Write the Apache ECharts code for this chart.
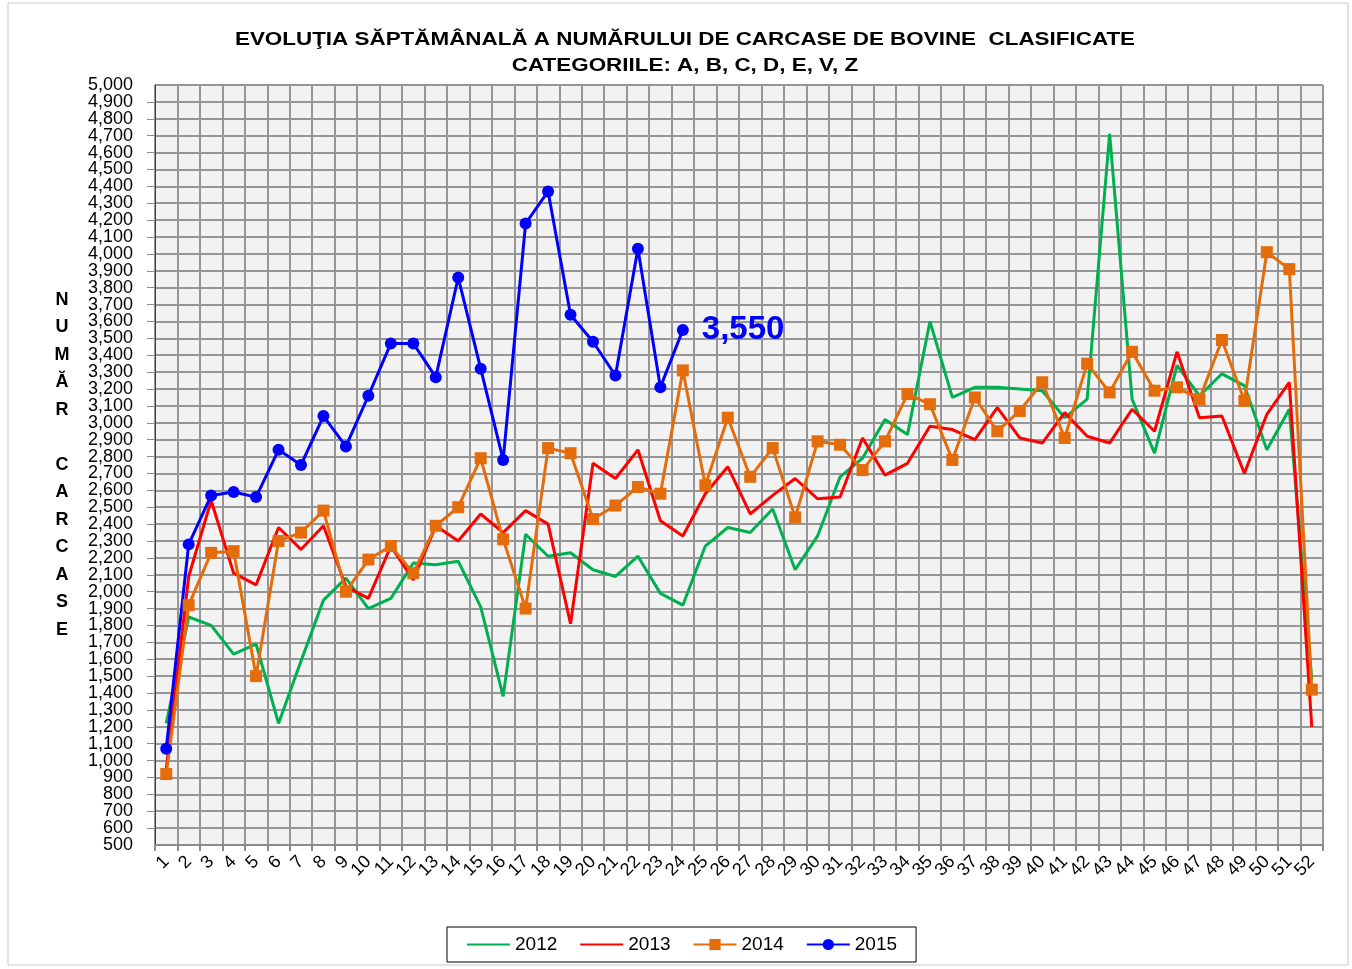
<!DOCTYPE html>
<html>
<head>
<meta charset="utf-8">
<script src="https://cdn.jsdelivr.net/npm/echarts@6/dist/echarts.min.js"></script>
<style>
  html, body { margin: 0; padding: 0; background: #fff; }
  #chart { width: 1352px; height: 969px; }
</style>
</head>
<body>
<div id="chart"></div>
<script>
// saptamanile 1..52
var weeks = ['1','2','3','4','5','6','7','8','9','10','11','12','13','14','15','16','17','18','19','20',
  '21','22','23','24','25','26','27','28','29','30','31','32','33','34','35','36','37','38','39','40',
  '41','42','43','44','45','46','47','48','49','50','51','52'];

var y2012 = [1220,1850,1800,1630,1690,1220,1590,1950,2080,1900,1960,2170,2160,2180,1910,1380,2340,2210,2230,2130,
  2090,2210,1990,1920,2270,2380,2350,2490,2130,2330,2680,2790,3020,2930,3600,3150,3210,3210,3200,3190,
  3030,3140,4710,3140,2820,3340,3160,3290,3220,2840,3080,1480];

var y2013 = [950,2090,2540,2110,2040,2380,2250,2390,2030,1960,2270,2070,2390,2300,2460,2350,2480,2400,1810,2760,
  2670,2840,2420,2330,2580,2740,2460,2570,2670,2550,2560,2910,2690,2760,2980,2960,2900,3090,2910,2880,
  3060,2920,2880,3080,2950,3420,3030,3040,2700,3050,3240,1200];

var y2014 = [920,1920,2230,2240,1500,2300,2350,2480,2000,2190,2270,2110,2390,2500,2790,2310,1900,2850,2820,2430,
  2510,2620,2580,3310,2630,3030,2680,2850,2440,2890,2870,2720,2890,3170,3110,2780,3150,2950,3070,3240,
  2910,3350,3180,3420,3190,3210,3140,3490,3130,4010,3910,1420];

var y2015 = [1070,2280,2570,2590,2560,2840,2750,3040,2860,3160,3470,3470,3270,3860,3320,2780,4180,4370,3640,3480,
  3280,4030,3210,3550];

var yMin = 500, yMax = 5000, yStep = 100;

var FONT = "'Liberation Sans', Arial, sans-serif";

function fmt(v) {
  return String(v).replace(/\B(?=(\d{3})+(?!\d))/g, ',');
}

var noMarker = { color: 'rgba(0,0,0,0)', borderColor: 'rgba(0,0,0,0)', borderWidth: 0, opacity: 0 };

var myChart = echarts.init(document.getElementById('chart'));
myChart.setOption({
  backgroundColor: '#ffffff',
  animation: false,
  textStyle: { fontFamily: FONT },
  grid: {
    left: 155, right: 29, top: 85, bottom: 124,
    show: true,
    backgroundColor: '#f2f2f2',
    borderColor: '#404040',
    borderWidth: 1
  },
  legend: {
    left: 447, top: 927,
    padding: [8, 19],
    borderColor: '#000',
    borderWidth: 1,
    itemWidth: 43,
    itemHeight: 14,
    itemGap: 22,
    textStyle: { fontSize: 19, color: '#000', fontFamily: FONT },
    data: [
      { name: '2012', itemStyle: noMarker },
      { name: '2013', itemStyle: noMarker },
      '2014',
      '2015'
    ]
  },
  xAxis: {
    type: 'category',
    data: weeks,
    boundaryGap: true,
    axisLine: { lineStyle: { color: '#8c8c8c', width: 2 } },
    axisTick: { show: true, length: 6, lineStyle: { color: '#8c8c8c', width: 2 } },
    axisLabel: { rotate: 45, fontSize: 18, color: '#000', margin: 14, interval: 0 },
    splitLine: { show: true, lineStyle: { color: '#969696', width: 2 } }
  },
  yAxis: [
    {
      type: 'value',
      min: yMin, max: yMax, interval: yStep,
      axisLine: { show: true, lineStyle: { color: '#404040', width: 1 } },
      axisTick: { show: true, length: 8, lineStyle: { color: '#8c8c8c', width: 1 } },
      axisLabel: {
        fontSize: 18, color: '#000', margin: 22, formatter: fmt,
        showMinLabel: false, showMaxLabel: false
      },
      splitLine: { show: true, lineStyle: { color: '#969696', width: 2 } }
    },
    {
      // doar etichetele 500 si 5,000
      type: 'value',
      position: 'left',
      min: yMin, max: yMax, interval: yStep,
      axisLine: { show: false },
      axisTick: { show: false },
      splitLine: { show: false },
      axisLabel: {
        fontSize: 18, color: '#000', margin: 22,
        showMinLabel: true, showMaxLabel: true,
        formatter: function (v) { return (v === yMin || v === yMax) ? fmt(v) : ''; }
      }
    }
  ],
  series: [
    {
      name: '2012', type: 'line', data: y2012,
      symbol: 'none',
      lineStyle: { color: '#00b050', width: 3 },
      itemStyle: { color: '#00b050' }
    },
    {
      name: '2013', type: 'line', data: y2013,
      symbol: 'none',
      lineStyle: { color: '#ff0000', width: 3 },
      itemStyle: { color: '#ff0000' }
    },
    {
      name: '2014', type: 'line', data: y2014,
      symbol: 'rect', symbolSize: 12,
      lineStyle: { color: '#e46c0a', width: 3 },
      itemStyle: { color: '#e46c0a' }
    },
    {
      name: '2015', type: 'line', data: y2015,
      symbol: 'circle', symbolSize: 12,
      lineStyle: { color: '#0000ff', width: 3 },
      itemStyle: { color: '#0000ff' },
      label: {
        show: true,
        position: 'right',
        distance: 13,
        fontSize: 33,
        fontWeight: 'bold',
        color: '#0000ff',
        formatter: function (p) {
          return p.dataIndex === y2015.length - 1 ? fmt(p.value) : '';
        }
      }
    }
  ],
  graphic: [
    {
      type: 'rect',
      shape: { x: 8, y: 3, width: 1340, height: 962 },
      style: { fill: 'none', stroke: '#c8c8c8', lineWidth: 1 },
      silent: true
    },
    {
      type: 'text',
      x: 685, y: 40, scaleX: 1.18,
      style: {
        x: 0, y: 0,
        text: 'EVOLUŢIA SĂPTĂMÂNALĂ A NUMĂRULUI DE CARCASE DE BOVINE  CLASIFICATE',
        font: 'bold 19px ' + FONT,
        fill: '#000',
        textAlign: 'center',
        textVerticalAlign: 'middle'
      }
    },
    {
      type: 'text',
      x: 685, y: 66, scaleX: 1.18,
      style: {
        x: 0, y: 0,
        text: 'CATEGORIILE: A, B, C, D, E, V, Z',
        font: 'bold 19px ' + FONT,
        fill: '#000',
        textAlign: 'center',
        textVerticalAlign: 'middle'
      }
    },
    {
      type: 'text',
      style: {
        x: 62, y: 286,
        text: 'N\nU\nM\nĂ\nR\n\nC\nA\nR\nC\nA\nS\nE',
        font: 'bold 18px ' + FONT,
        lineHeight: 27.5,
        fill: '#000',
        textAlign: 'center',
        textVerticalAlign: 'top'
      }
    }
  ]
});
</script>
</body>
</html>
